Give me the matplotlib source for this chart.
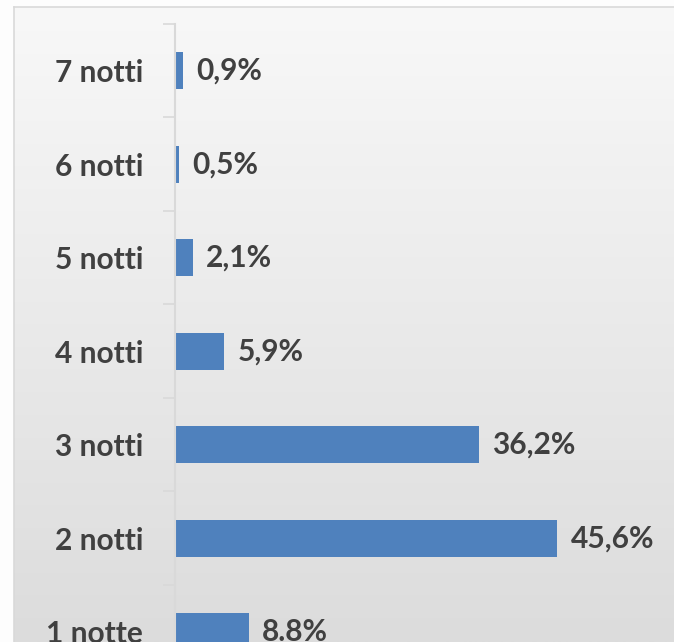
import numpy as np
import matplotlib.pyplot as plt
from matplotlib.colors import LinearSegmentedColormap

categorie = ['1 notte', '2 notti', '3 notti', '4 notti', '5 notti', '6 notti', '7 notti']
valori = [8.8, 45.6, 36.2, 5.9, 2.1, 0.5, 0.9]
etichette = ['8.8%', '45,6%', '36,2%', '5,9%', '2,1%', '0,5%', '0,9%']

plt.rcParams['font.family'] = ['Lato', 'DejaVu Sans']

W, H = 674, 642
fig = plt.figure(figsize=(W / 100, H / 100), dpi=100)
fig.patch.set_facecolor('#fdfdfd')

# sfondo sfumato con cornice (tagliata a destra e in basso)
bg = fig.add_axes([14 / W, 0, 1 - 14 / W + 0.01, (H - 7) / H])
grad = np.linspace(0, 1, 256).reshape(-1, 1)
bg.imshow(grad, aspect='auto', cmap=LinearSegmentedColormap.from_list('g', ['#f8f8f8', '#dcdcdc']),
          extent=[0, 1, 1, 0])
bg.set_xticks([])
bg.set_yticks([])
for k, s in bg.spines.items():
    if k in ('right', 'bottom'):
        s.set_visible(False)
    else:
        s.set_color('#d9d9d9')
        s.set_linewidth(1.2)

y = np.arange(len(categorie))
ax = fig.add_axes([175 / W, 0, 1 - 175 / W, (H - 24) / H])
ax.patch.set_alpha(0)
ax.barh(y, valori, height=0.4, color='#4f81bd')

for yi, v, t in zip(y, valori, etichette):
    ax.text(v + 1.6, yi, t, va='center', ha='left', fontsize=21.5,
            fontweight='bold', color='#404040')

ax.set_yticks(y)
ax.set_yticklabels(categorie, fontsize=21.5, fontweight='bold', color='#404040')
ax.set_yticks(np.arange(-0.5, 7, 1), minor=True)
ax.tick_params(axis='y', which='major', length=0, pad=23)
ax.tick_params(axis='y', which='minor', length=9, width=1.2, color='#d9d9d9')
ax.set_xticks([])
ax.set_xlim(0, 59.5)
ax.set_ylim(-0.11, 6.5)
for k in ['top', 'right', 'bottom']:
    ax.spines[k].set_visible(False)
ax.spines['left'].set_color('#d9d9d9')
ax.spines['left'].set_linewidth(1.5)

fig.savefig('out.png', dpi=100, facecolor=fig.get_facecolor())
